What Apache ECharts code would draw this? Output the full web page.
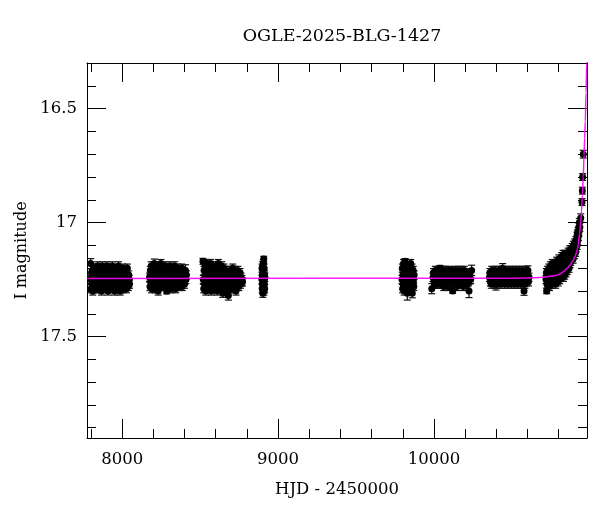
<!DOCTYPE html>
<html><head><meta charset="utf-8">
<script src="https://cdn.jsdelivr.net/npm/echarts@6/dist/echarts.min.js"></script>
<style>html,body{margin:0;padding:0;background:#fff}#c{width:600px;height:512px}</style>
</head><body><div id="c"></div>
<script>
const TITLE = 'OGLE-2025-BLG-1427';
const X_NAME = 'HJD - 2450000';
const Y_NAME = 'I magnitude';
const X_MIN = 7774, X_MAX = 10982;
const Y_MIN = 16.3, Y_MAX = 17.945;
const X_MAJOR = [8000, 9000, 10000];
const X_MINOR = [7800, 8200, 8400, 8600, 8800, 9200, 9400, 9600, 9800, 10200, 10400, 10600, 10800];
const Y_MAJOR = [16.5, 17, 17.5];
const Y_MINOR = [16.4, 16.6, 16.7, 16.8, 16.9, 17.1, 17.2, 17.3, 17.4, 17.6, 17.7, 17.8, 17.9];
const TYPICAL_ERR = 0.018;

// [HJD-2450000, I mag, (error)]
const season1 = [[7796,17.25],[7798,17.18,0.022],[7800,17.29],[7803,17.22],[7806,17.27],[7808,17.21],[7811,17.30],[7814,17.24],[7816,17.20],[7819,17.28],[7822,17.23],[7825,17.26],[7828,17.20],[7830,17.29],[7833,17.25],[7836,17.21],[7839,17.27],[7842,17.19],[7844,17.24],[7847,17.29],[7850,17.22],[7853,17.26],[7856,17.20],[7858,17.28],[7861,17.24],[7864,17.21],[7867,17.30],[7870,17.25],[7872,17.19],[7875,17.27],[7878,17.23],[7881,17.29],[7884,17.21],[7886,17.26],[7889,17.24],[7892,17.20],[7895,17.28],[7898,17.22],[7900,17.27],[7903,17.19],[7906,17.25],[7909,17.30],[7912,17.23],[7914,17.21],[7917,17.28],[7920,17.25],[7923,17.20],[7926,17.27],[7928,17.22],[7931,17.29],[7934,17.24],[7937,17.19],[7940,17.26],[7942,17.21],[7945,17.28],[7948,17.23],[7951,17.30],[7954,17.25],[7956,17.20],[7959,17.27],[7962,17.22],[7965,17.29],[7968,17.24],[7970,17.21],[7973,17.26],[7976,17.19],[7979,17.28],[7982,17.23],[7984,17.25],[7987,17.30],[7990,17.21],[7993,17.27],[7996,17.22],[7998,17.24],[8001,17.29],[8004,17.20],[8007,17.26],[8010,17.23],[8012,17.28],[8015,17.21],[8018,17.25],[8021,17.27],[8024,17.22],[8027,17.29],[8030,17.24],[8033,17.20],[8036,17.26],[8039,17.28],[8042,17.23],[8045,17.25],[8047,17.27]];
const season2 = [[8175,17.24],[8178,17.28],[8180,17.21],[8183,17.26],[8186,17.19],[8189,17.29],[8192,17.23],[8194,17.25],[8197,17.20],[8200,17.27],[8203,17.22],[8206,17.18,0.02],[8208,17.26],[8211,17.24],[8214,17.29],[8217,17.21],[8220,17.25],[8222,17.19],[8225,17.27],[8228,17.23],[8231,17.30],[8234,17.22],[8236,17.26],[8239,17.20],[8242,17.28],[8245,17.24],[8248,17.18],[8250,17.25],[8253,17.28],[8256,17.21],[8259,17.27],[8262,17.23],[8264,17.20],[8267,17.26],[8270,17.22],[8273,17.28],[8276,17.19],[8278,17.25],[8281,17.23],[8285,17.30,0.013],[8287,17.21],[8290,17.27],[8292,17.24],[8295,17.20],[8298,17.28],[8301,17.22],[8304,17.26],[8306,17.19],[8309,17.25],[8312,17.29],[8315,17.23],[8318,17.21],[8320,17.27],[8323,17.24],[8326,17.20],[8329,17.28],[8332,17.22],[8334,17.26],[8337,17.19],[8340,17.25],[8343,17.29],[8346,17.23],[8348,17.21],[8351,17.27],[8354,17.24],[8357,17.20],[8360,17.26],[8362,17.22],[8365,17.28],[8368,17.24],[8371,17.21],[8374,17.27],[8376,17.23],[8379,17.25],[8382,17.20],[8385,17.28],[8388,17.24],[8391,17.22],[8394,17.26],[8397,17.23],[8400,17.27],[8403,17.24],[8406,17.21,0.025],[8409,17.25],[8412,17.23]];
const season3 = [[8518,17.17,0.013],[8520,17.25],[8523,17.29],[8525,17.21],[8528,17.27],[8531,17.19],[8534,17.24],[8536,17.30],[8539,17.22],[8542,17.26],[8545,17.18],[8547,17.28],[8550,17.23],[8553,17.25],[8556,17.20],[8559,17.29],[8561,17.22],[8564,17.27],[8567,17.18],[8570,17.24],[8572,17.30],[8575,17.21],[8578,17.26],[8581,17.19],[8584,17.28],[8586,17.23],[8589,17.25],[8592,17.20],[8595,17.29],[8598,17.22],[8600,17.27],[8603,17.19],[8606,17.24],[8609,17.30],[8611,17.21],[8614,17.26],[8617,17.18],[8620,17.28],[8622,17.23],[8625,17.25],[8628,17.20],[8631,17.29],[8634,17.22],[8636,17.27],[8639,17.19],[8642,17.24],[8645,17.31],[8647,17.21],[8650,17.26],[8653,17.20],[8656,17.28],[8659,17.23],[8661,17.25],[8664,17.29],[8667,17.21],[8670,17.27],[8672,17.24],[8675,17.30],[8678,17.22],[8681,17.32,0.02],[8684,17.26],[8686,17.23],[8689,17.28],[8692,17.21],[8695,17.25],[8698,17.29],[8700,17.22],[8703,17.27],[8706,17.24],[8709,17.20],[8712,17.28],[8714,17.23],[8717,17.26],[8720,17.21],[8723,17.29],[8725,17.24],[8728,17.22],[8730,17.30],[8733,17.26],[8736,17.23],[8739,17.27],[8742,17.21],[8745,17.25],[8748,17.28],[8750,17.23],[8753,17.26],[8756,17.22],[8759,17.27],[8762,17.24],[8765,17.26],[8768,17.25],[8772,17.26]];
const season4 = [[8896,17.25],[8897,17.20],[8898,17.29],[8899,17.23],[8900,17.27],[8901,17.19],[8902,17.31],[8903,17.24],[8904,17.21],[8905,17.28],[8906,17.18],[8907,17.26],[8908,17.16,0.012],[8909,17.30],[8910,17.25],[8911,17.20],[8912,17.27],[8913,17.23],[8914,17.29],[8915,17.24]];
const season5 = [[9795,17.25],[9797,17.20],[9799,17.29],[9801,17.23],[9803,17.27],[9805,17.18],[9807,17.24],[9809,17.30],[9811,17.21],[9813,17.26],[9815,17.17,0.012],[9817,17.28],[9819,17.22],[9821,17.25],[9823,17.19],[9825,17.29],[9827,17.23],[9829,17.31,0.03],[9831,17.21],[9833,17.27],[9835,17.24],[9837,17.19],[9839,17.28],[9841,17.22],[9843,17.26],[9845,17.20],[9847,17.29],[9849,17.24],[9851,17.18],[9853,17.27],[9855,17.22],[9857,17.25],[9859,17.20],[9861,17.31,0.02],[9863,17.23],[9865,17.27],[9867,17.21],[9869,17.25],[9871,17.28],[9873,17.23]];
const season6 = [[9986,17.29,0.022],[9994,17.24],[9997,17.22],[10000,17.26],[10003,17.23],[10006,17.27],[10009,17.21],[10012,17.25],[10015,17.23],[10018,17.27],[10021,17.22],[10024,17.26],[10027,17.24],[10030,17.21],[10033,17.27],[10036,17.23],[10039,17.20,0.012],[10042,17.25],[10045,17.22],[10048,17.27],[10051,17.24],[10054,17.21],[10057,17.26],[10060,17.23],[10063,17.28],[10066,17.22],[10069,17.25],[10072,17.24],[10075,17.21],[10078,17.27],[10081,17.23],[10084,17.26],[10087,17.22],[10090,17.28],[10093,17.24],[10096,17.21],[10099,17.26],[10102,17.23],[10105,17.27],[10109,17.21,0.015],[10112,17.25],[10115,17.23],[10118,17.27],[10120,17.30,0.01],[10123,17.22],[10126,17.26],[10129,17.24],[10132,17.21],[10135,17.27],[10138,17.23],[10141,17.25],[10144,17.22],[10147,17.28],[10150,17.24],[10153,17.21],[10156,17.26],[10159,17.23],[10162,17.27],[10165,17.22],[10168,17.25],[10171,17.24],[10174,17.21],[10177,17.27],[10180,17.23],[10183,17.26],[10186,17.22],[10189,17.28],[10192,17.24],[10195,17.21],[10198,17.26],[10201,17.23],[10204,17.27],[10207,17.25],[10210,17.22],[10214,17.27],[10218,17.24],[10222,17.26],[10225,17.30,0.029],[10230,17.23],[10236,17.25],[10242,17.21,0.023]];
const season7 = [[10356,17.24],[10359,17.22],[10362,17.26],[10365,17.23],[10368,17.27],[10371,17.21],[10374,17.25],[10377,17.23],[10380,17.26],[10383,17.22],[10386,17.27],[10389,17.24],[10392,17.21],[10395,17.26],[10398,17.27,0.026],[10401,17.23],[10404,17.25],[10407,17.22],[10410,17.27],[10413,17.24],[10416,17.21],[10419,17.26],[10422,17.23],[10425,17.25],[10428,17.22],[10431,17.27],[10434,17.24],[10437,17.21],[10441,17.20,0.02],[10444,17.25],[10447,17.23],[10450,17.26],[10453,17.22],[10456,17.27],[10459,17.24],[10462,17.21],[10465,17.26],[10468,17.23],[10471,17.25],[10474,17.22],[10477,17.27],[10480,17.24],[10483,17.21],[10486,17.26],[10489,17.23],[10492,17.25],[10495,17.22],[10498,17.27],[10501,17.24],[10504,17.21],[10507,17.26],[10510,17.23],[10513,17.25],[10516,17.22],[10519,17.27],[10522,17.24],[10525,17.21],[10528,17.26],[10531,17.23],[10534,17.25],[10537,17.22],[10540,17.27],[10543,17.24],[10546,17.21],[10549,17.26],[10552,17.23],[10555,17.25],[10558,17.22],[10561,17.27],[10564,17.24],[10567,17.21],[10570,17.26],[10573,17.23],[10576,17.25],[10578,17.30,0.019],[10581,17.22],[10584,17.27],[10587,17.24],[10590,17.21],[10593,17.26],[10596,17.23],[10599,17.25],[10603,17.21,0.02],[10606,17.26],[10610,17.24]];
const season8 = [[10719,17.25],[10721,17.22],[10723,17.30,0.012],[10725,17.27],[10727,17.24],[10729,17.21],[10731,17.28],[10733,17.23],[10735,17.26],[10737,17.20],[10739,17.25],[10741,17.28],[10743,17.22],[10745,17.24],[10747,17.19],[10749,17.27],[10751,17.23],[10753,17.26],[10755,17.21],[10757,17.24],[10759,17.18],[10761,17.27],[10763,17.22],[10765,17.25],[10767,17.20],[10769,17.23],[10771,17.26],[10773,17.19],[10775,17.22],[10777,17.24],[10779,17.18],[10781,17.27],[10783,17.21],[10785,17.23],[10787,17.17],[10789,17.25],[10791,17.20],[10793,17.22],[10795,17.18],[10797,17.26],[10799,17.21],[10801,17.16],[10803,17.23],[10805,17.19],[10807,17.25],[10809,17.17],[10811,17.21],[10813,17.24],[10815,17.18],[10817,17.20],[10819,17.15],[10821,17.23],[10823,17.19],[10825,17.17],[10827,17.21],[10829,17.14],[10831,17.24],[10833,17.18],[10835,17.21],[10837,17.16],[10839,17.23],[10841,17.14],[10843,17.20],[10845,17.17],[10847,17.22],[10849,17.15],[10851,17.19],[10853,17.14],[10855,17.21],[10857,17.16],[10859,17.19],[10861,17.13],[10863,17.18],[10865,17.15],[10867,17.20],[10869,17.16],[10871,17.12],[10873,17.18],[10875,17.14],[10877,17.17],[10879,17.12],[10881,17.16],[10883,17.13],[10885,17.15],[10887,17.11],[10889,17.14],[10891,17.12],[10893,17.16],[10895,17.10],[10897,17.13],[10899,17.11],[10901,17.14],[10903,17.09],[10905,17.12],[10907,17.10],[10909,17.13],[10911,17.08],[10913,17.11],[10915,17.09],[10917,17.06],[10919,17.10],[10921,17.05],[10923,17.08],[10925,17.04],[10927,17.06],[10929,17.02],[10931,17.04],[10933,17.00],[10936,17.02],[10942,16.98],[10950,16.91,0.015],[10952,16.86,0.015],[10954,16.80,0.015],[10958,16.70,0.017]];

// model curve
const modelCurve = [[7774,17.245],[10500,17.244],[10650,17.242],[10702,17.240],[10750,17.236],[10788,17.231],[10810,17.225],[10830,17.216],[10855,17.200],[10873,17.186],[10890,17.170],[10905,17.150],[10915,17.130],[10922,17.113],[10926,17.095],[10934,17.050],[10942,16.996],[10947,16.950],[10952,16.880],[10958,16.800],[10963,16.704],[10967,16.630],[10971,16.557],[10976,16.430],[10980,16.300],[10982,16.240]];

const seasons = [season1, season2, season3, season4, season5, season6, season7, season8];
const points = [];
seasons.forEach(s => s.forEach(p => points.push([p[0], p[1], p.length > 2 ? p[2] : TYPICAL_ERR])));

const FONT = 'DejaVu Serif';
const labelStyle = {color: '#000', fontFamily: FONT, fontSize: 16.5};

function xAx(pos, vals, len, showLine, showLabel) {
  return {
    type: 'value', position: pos, min: X_MIN, max: X_MAX, gridIndex: 0,
    axisLine: {show: showLine, onZero: false, lineStyle: {color: '#000', width: 1}},
    axisTick: {show: true, inside: true, length: len, customValues: vals, lineStyle: {color: '#000', width: 1}},
    axisLabel: showLabel ? Object.assign({show: true, margin: 13, customValues: vals,
      formatter: v => String(v)}, labelStyle) : {show: false},
    splitLine: {show: false}
  };
}
function yAx(pos, vals, len, showLine, showLabel) {
  return {
    type: 'value', position: pos, min: Y_MIN, max: Y_MAX, inverse: true, gridIndex: 0,
    axisLine: {show: showLine, onZero: false, lineStyle: {color: '#000', width: 1}},
    axisTick: {show: true, inside: true, length: len, customValues: vals, lineStyle: {color: '#000', width: 1}},
    axisLabel: showLabel ? Object.assign({show: true, margin: 10, customValues: vals,
      formatter: v => String(Math.round(v * 10) / 10)}, labelStyle) : {show: false},
    splitLine: {show: false}
  };
}

const xMain = xAx('bottom', X_MAJOR, 19, true, true);
xMain.name = X_NAME; xMain.nameLocation = 'middle'; xMain.nameGap = 43;
xMain.nameTextStyle = {color: '#000', fontFamily: FONT, fontSize: 16.5};
const yMain = yAx('left', Y_MAJOR, 19, true, true);
yMain.name = Y_NAME; yMain.nameLocation = 'middle'; yMain.nameGap = 52;
yMain.nameTextStyle = {color: '#000', fontFamily: FONT, fontSize: 16};

const chart = echarts.init(document.getElementById('c'), null, {renderer: 'canvas'});
chart.setOption({
  animation: false,
  backgroundColor: '#fff',
  title: {text: TITLE, left: 337, top: 22, textAlign: 'center',
    textStyle: {color: '#000', fontFamily: FONT, fontSize: 17.5, fontWeight: 'normal'}},
  grid: {left: 87, right: 13, top: 63, bottom: 74},
  xAxis: [xMain, xAx('bottom', X_MINOR, 9, false, false), xAx('top', X_MAJOR, 19, true, false), xAx('top', X_MINOR, 9, false, false)],
  yAxis: [yMain, yAx('left', Y_MINOR, 9, false, false), yAx('right', Y_MAJOR, 19, true, false), yAx('right', Y_MINOR, 9, false, false)],
  series: [
    {
      type: 'custom', xAxisIndex: 0, yAxisIndex: 0, clip: true,
      data: points, encode: {x: 0, y: 1},
      renderItem: function (params, api) {
        const x = api.value(0), y = api.value(1), e = api.value(2);
        const p = api.coord([x, y]);
        const hi = api.coord([x, y - e]);
        const lo = api.coord([x, y + e]);
        const cw = 3.5;
        return {type: 'group', children: [
          {type: 'line', shape: {x1: p[0], y1: hi[1], x2: p[0], y2: lo[1]}, style: {stroke: '#000', lineWidth: 1.2}},
          {type: 'line', shape: {x1: p[0] - cw, y1: hi[1], x2: p[0] + cw, y2: hi[1]}, style: {stroke: '#111', lineWidth: 1.2}},
          {type: 'line', shape: {x1: p[0] - cw, y1: lo[1], x2: p[0] + cw, y2: lo[1]}, style: {stroke: '#111', lineWidth: 1.2}}
        ]};
      },
      z: 2
    },
    {
      type: 'scatter', xAxisIndex: 0, yAxisIndex: 0, data: points, symbol: 'circle', symbolSize: 7,
      itemStyle: {color: '#000', opacity: 1}, emphasis: {disabled: true}, large: false, z: 2
    },
    {
      type: 'line', xAxisIndex: 0, yAxisIndex: 0, data: modelCurve, smooth: 0.3, smoothMonotone: 'x',
      showSymbol: false, clip: true,
      lineStyle: {color: '#ff00ff', width: 1.5, opacity: 0.9}, z: 3
    }
  ]
});
</script>
</body></html>
